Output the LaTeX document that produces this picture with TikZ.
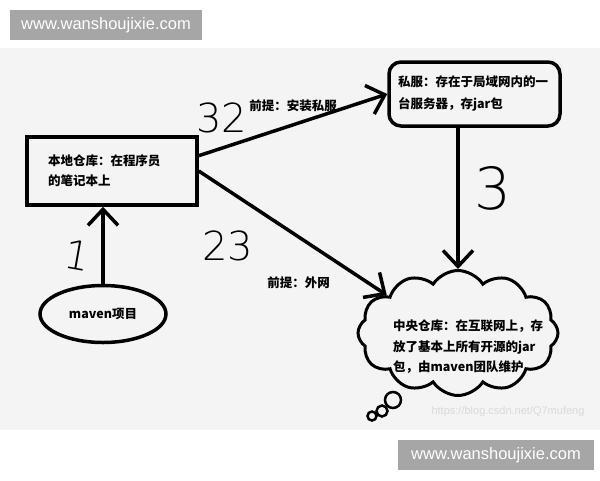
\documentclass[tikz,border=0pt]{standalone}
\usepackage{fontspec}
\setmainfont{Noto Sans CJK SC}
\newfontfamily\markfont{Liberation Sans}
\newfontfamily\handfont{DejaVu Sans ExtraLight}
\usetikzlibrary{shapes,shapes.symbols,arrows,positioning,calc,arrows.meta}
\definecolor{bggray}{HTML}{F4F4F4}
\definecolor{markgray}{HTML}{A6A6A6}

\tikzset{
  cn/.style={font=\bfseries\fontsize{12.5}{20}\selectfont},
  repobox/.style={cn, draw, line width=3.5pt, minimum width=170pt, minimum height=68pt, text width=128pt, align=left},
  serverbox/.style={cn, draw, line width=3.5pt, rounded corners=12pt, minimum width=171pt, minimum height=64pt, text width=153pt, align=left, font=\bfseries\fontsize{12.5}{22}\selectfont},
  projell/.style={cn, draw, ellipse, line width=3.5pt, minimum width=126pt, minimum height=57pt},
  cloudbox/.style={draw, cloud, cloud puffs=12, cloud puff arc=115, aspect=1.6, line width=3pt, minimum width=200pt, minimum height=125pt},
  link/.style={line width=3.5pt, -{Straight Barb[length=16pt,width=30pt]}},
  hand/.style={font=\handfont\fontsize{40}{40}\selectfont, inner sep=0pt},
  markbox/.style={fill=markgray, text=white, font=\markfont\fontsize{16.5}{18}\selectfont, minimum height=30pt, inner sep=0pt}
}

\begin{document}
\begin{tikzpicture}[x=1pt, y=-1pt]
    \useasboundingbox (0,0) rectangle (600,480);
    \fill[bggray] (0,48) rectangle (600,430);
    \node[markbox, minimum width=192pt] (topmark) at (106,25) {www.wanshoujixie.com};
    \node[markbox, minimum width=196pt] (botmark) at (496,455) {www.wanshoujixie.com};

    \node[repobox] (local) at (112,171) {本地仓库：在程序员\\的笔记本上};
    \node[projell, below=77pt of local, xshift=-9pt] (maven) {maven项目};
    \node[serverbox] (private) at (474.5,94) {私服：存在于局域网内的一\\台服务器，存jar包};
    \node[cloudbox] (central) at (458,333) {};
    \node[cn, text width=160pt, align=left, font=\bfseries\fontsize{12.5}{20.5}\selectfont] (centraltext) at (473,347) {中央仓库：在互联网上，存\\放了基本上所有开源的jar\\包，由maven团队维护};
    \draw[line width=2.5pt] (393,400) circle (8);
    \draw[line width=2.5pt] (382,411) circle (5.5);
    \draw[line width=2.5pt] (372,416) circle (4.5);
    \node[text=gray!30, font=\markfont\fontsize{11}{12}\selectfont] (csdn) at (508,412) {https://blog.csdn.net/Q7mufeng};

    \draw[link] (maven.north) -- (maven.north |- local.south);
    \draw[link] (local.10) -- (private.west)
        node[midway, above=8pt, cn] (privlabel) {前提：安装私服};
    \draw[link] (local.east) -- (central.152)
        node[pos=0.9, left=33pt, cn] (wanlabel) {前提：外网};
    \draw[link] (central.north |- private.south) -- (central.north);

    % hand written numbers
    \node[hand, rotate=-10] (n1) at (78,255) {1};
    \node[hand] (n32) at (222,118) {32};
    \node[hand] (n23) at (228,246) {23};
    \node[hand, font=\handfont\fontsize{58}{58}\selectfont] (n3) at (493,188) {3};
\end{tikzpicture}
\end{document}
